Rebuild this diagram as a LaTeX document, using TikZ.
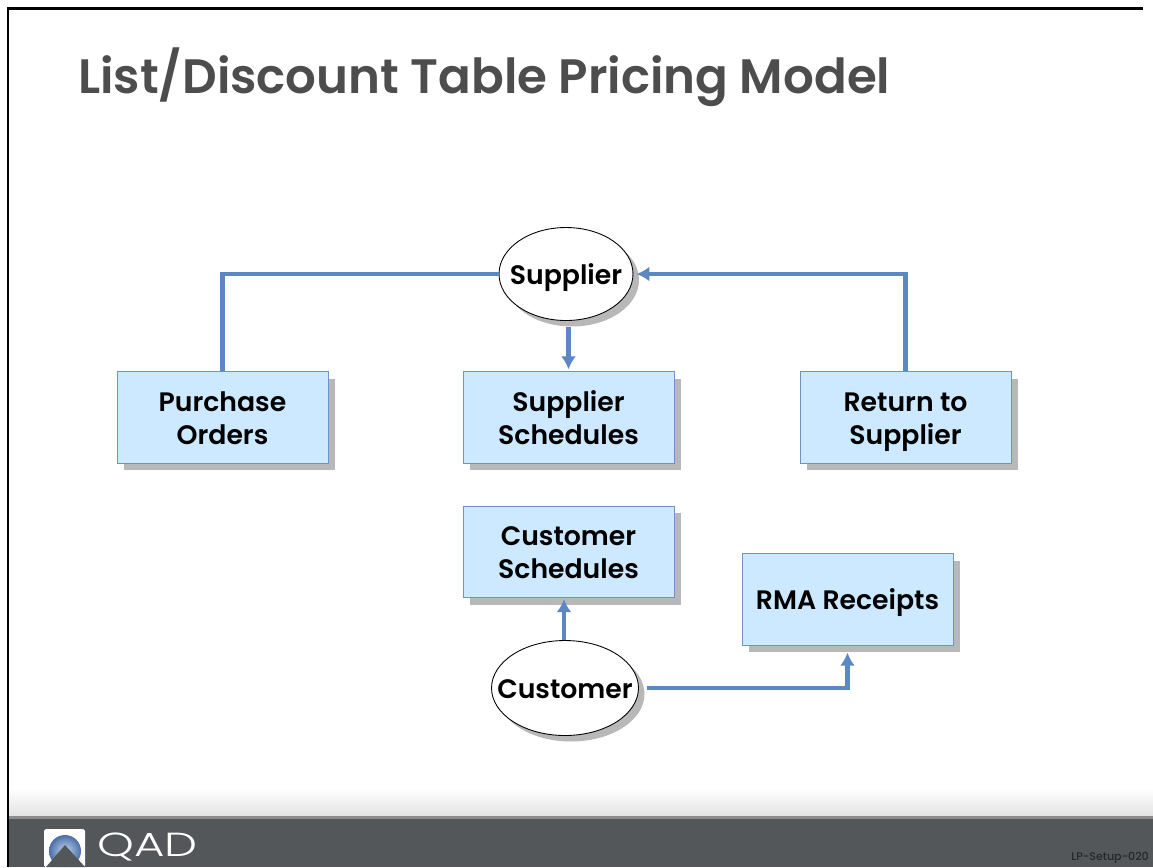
\documentclass[tikz,border=0pt]{standalone}
\usepackage{fontspec}
\setmainfont{Poppins}[UprightFont=*-Medium,BoldFont=*-SemiBold]
\newfontfamily\qadfont{Poppins}[UprightFont=*-Light,FakeStretch=1.4]
\usetikzlibrary{shadows,arrows.meta,shapes.geometric}
\definecolor{flowblue}{HTML}{5B87C5}
\definecolor{boxblue}{HTML}{CCE9FF}
\definecolor{boxline}{HTML}{6F94C4}
\definecolor{barcolor}{HTML}{54575A}
\definecolor{titlegray}{HTML}{4D4D4D}
\definecolor{ballout}{HTML}{4A6FA8}
\definecolor{ballin}{HTML}{C4D6EC}
\newcommand{\topstrut}{\rule{0pt}{17.3pt}}
\newcommand{\ovaltext}[1]{\makebox[0pt]{\raisebox{-5.7pt}[0pt][0pt]{#1}}}
\tikzset{
  box/.style={draw=boxline, line width=0.5pt, fill=boxblue, minimum width=4.22cm, minimum height=1.83cm,
    align=center, font=\fontsize{15.2}{19}\selectfont\bfseries,
    drop shadow={shadow xshift=0.14cm, shadow yshift=-0.14cm, fill=black!28, opacity=1}},
  oval/.style={draw=black, line width=0.5pt, fill=white, ellipse, inner sep=0pt,
    font=\fontsize{15.2}{19}\selectfont\bfseries,
    drop shadow={shadow xshift=0.12cm, shadow yshift=-0.12cm, fill=black!28, opacity=1}},
  flow/.style={draw=flowblue, line width=2.4pt},
  tip/.style={-{Latex[length=0.26cm,width=0.3cm]}},
}
\begin{document}
\begin{tikzpicture}[x=0.02cm,y=-0.02cm]
  \useasboundingbox (0,0) rectangle (1153,867);
  \fill[white] (0,0) rectangle (1153,867);
  % frame
  \fill[black] (7,7) rectangle (1143,9.5);
  \fill[black] (7,7) rectangle (9,867);
  % footer
  \shade[top color=white, bottom color=black!11] (9,788) rectangle (1153,816);
  \fill[black!45] (9,816) rectangle (1153,819);
  \fill[barcolor] (9,819) rectangle (1153,867);
  % logo
  \fill[white, rounded corners=1pt] (44,829) rectangle (85,867);
  \shade[inner color=ballin, outer color=ballout] (65,851) circle [radius = 16];
  \fill[barcolor] (65,845) -- (85,867) -- (46,867) -- cycle;
  \node[text=white, font=\qadfont\fontsize{19}{19}\selectfont, anchor=west] (qad) at (91,847) {QAD};
  \node[text=black!85, font=\fontsize{6.3}{7}\selectfont, anchor=east] (code) at (1155,858) {LP-Setup-020};
  % title
  \node[text=titlegray, font=\fontsize{27.5}{30}\selectfont\bfseries, anchor=west] (title) at (72,77) {List/Discount Table Pricing Model};
  % boxes
  \node[box] (purchase) at (222.5,417.5) {Purchase\topstrut\\Orders\strut};
  \node[box] (supsched) at (568.5,417.5) {Supplier\topstrut\\Schedules\strut};
  \node[box] (return) at (905.5,417.5) {Return to\topstrut\\Supplier\strut};
  \node[box] (custsched) at (568.5,552) {Customer\topstrut\\Schedules\strut};
  \node[box] (rma) at (847.5,599.5) {RMA Receipts\topstrut\strut};
  % ovals
  \node[oval, minimum width=2.68cm, minimum height=1.86cm] (supplier) at (566,274) {\ovaltext{Supplier}};
  \node[oval, minimum width=2.94cm, minimum height=1.9cm] (customer) at (565,688) {\ovaltext{Customer}};
  % connectors
  \draw[flow] (purchase.north) |- (supplier.west);
  \draw[flow, tip] (return.north) |- ([xshift=0.06cm]supplier.east);
  \draw[flow, tip] ([yshift=-0.12cm]supplier.south -| supsched.north) -- ([yshift=0.04cm]supsched.north);
  \draw[flow, tip] (customer.north -| 564,0) -- ([yshift=-0.02cm]custsched.south -| 564,0);
  \draw[flow, tip] ([xshift=0.16cm]customer.east) -| ([yshift=-0.14cm]rma.south);
\end{tikzpicture}
\end{document}
